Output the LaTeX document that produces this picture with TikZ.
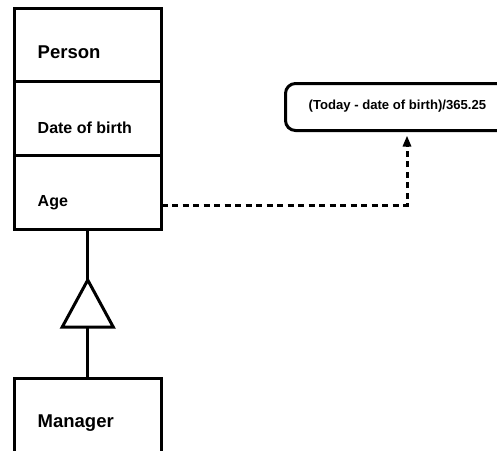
\documentclass[tikz,border=0pt]{standalone}
\usepackage{fontspec}
\setmainfont{Liberation Sans}
\usetikzlibrary{arrows.meta}
\begin{document}
\begin{tikzpicture}[x=1pt,y=-1pt,
  compartment/.style={draw, line width=3pt, minimum width=147.5pt, inner sep=0pt, outer sep=0pt, anchor=north west},
  note/.style={draw, line width=3pt, rounded corners=10pt, minimum width=330pt, minimum height=47pt, inner sep=0pt, outer sep=0pt, anchor=north west},
  classname/.style={font=\bfseries\fontsize{18.5}{22}\selectfont, anchor=base west, inner sep=0pt},
  attr/.style={font=\bfseries\fontsize{16}{19}\selectfont, anchor=base west, inner sep=0pt},
  formula/.style={font=\bfseries\fontsize{13.1}{16}\selectfont, anchor=base west, inner sep=0pt},
  link/.style={line width=3pt},
  deplink/.style={line width=3pt, dash pattern=on 6pt off 4.5pt, -{Triangle[length=11pt,width=8pt]}, shorten >=5pt}]
  \useasboundingbox (0,0) rectangle (497,450);
  \clip (0,0) rectangle (497,450);

  % Person class with its compartments
  \node[compartment, minimum height=72.5pt] (person) at (14,8.5) {};
  \node[compartment, minimum height=74pt] (dob) at (person.south west) {};
  \node[compartment, minimum height=74pt] (age) at (dob.south west) {};
  \node[classname] (personlbl) at (37.5,58) {Person};
  \node[attr] (doblbl) at (37.5,133) {Date of birth};
  \node[attr] (agelbl) at (37.5,206) {Age};

  % Manager class
  \node[compartment, minimum height=90pt] (manager) at (14,378) {};
  \node[classname] (managerlbl) at (37.5,427) {Manager};

  % Generalisation triangle
  \coordinate (apex) at (person.south |- 0,280);
  \coordinate (base) at (person.south |- 0,327);
  \draw[link] (apex) -- ++(25.5,47) -- ++(-51,0) -- cycle;
  \draw[link] (age.south) -- (apex);
  \draw[link] (base) -- (manager.north);

  % Note with the formula for the derived attribute (runs past the right edge)
  \node[note] (note) at (285.5,83.5) {};
  \node[formula] (formulalbl) at (308.5,109) {(Today - date of birth)/365.25};

  % Dependency from the Age attribute to the note
  \coordinate (lnk) at (age.east |- 0,205);
  \coordinate (bend) at (407,205);
  \draw[deplink] (lnk) -- (bend) -- (bend |- note.south);
\end{tikzpicture}
\end{document}
